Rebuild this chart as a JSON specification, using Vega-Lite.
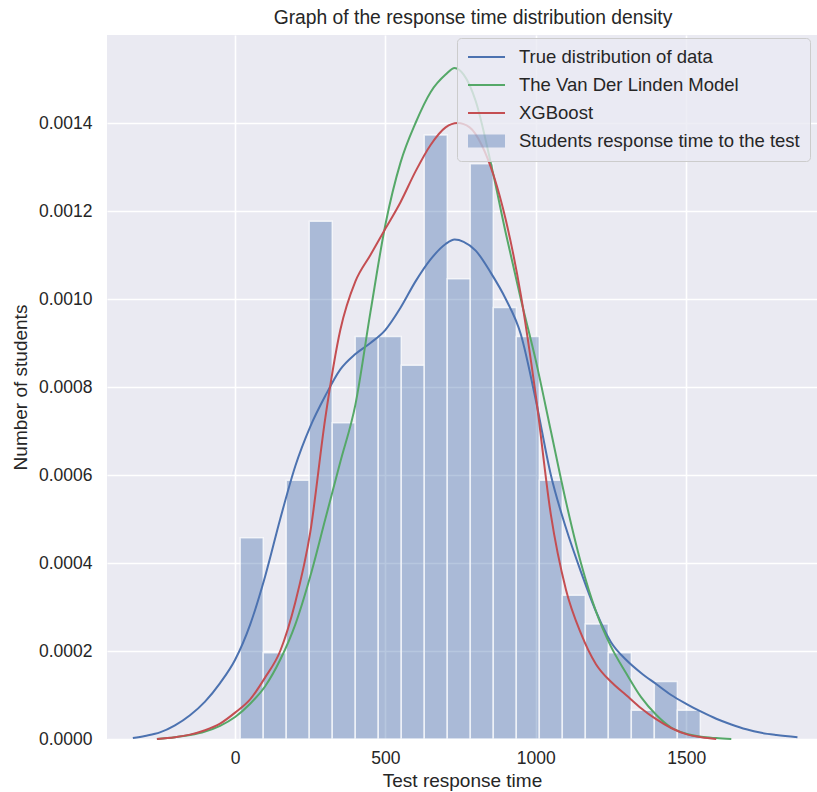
{
  "$schema": "https://vega.github.io/schema/vega-lite/v6.json",
  "width": 710,
  "height": 704,
  "autosize": {"type": "none"},
  "padding": {"left": 107, "top": 35, "right": 0, "bottom": 53},
  "background": "white",
  "title": {"text": "Graph of the response time distribution density", "fontSize": 19.3, "font": "Liberation Sans", "fontWeight": "normal", "color": "#262626", "offset": 7, "dx": 11},
  "config": {
    "view": {"fill": "#EAEAF2", "stroke": null},
    "font": "Liberation Sans",
    "axis": {"domain": false, "ticks": false, "gridColor": "white", "gridWidth": 1.6, "gridOpacity": 1, "labelColor": "#262626", "labelFontSize": 17.5, "labelFont": "Liberation Sans", "titleColor": "#262626", "titleFontSize": 19, "titleFontWeight": "normal", "titleFont": "Liberation Sans"}
  },
  "datasets": {
    "bins": [
      {"start": 17, "end": 93.5, "density": 0.0004575, "series": "Students response time to the test"},
      {"start": 93.5, "end": 170, "density": 0.0001961, "series": "Students response time to the test"},
      {"start": 170, "end": 246.5, "density": 0.0005882, "series": "Students response time to the test"},
      {"start": 246.5, "end": 323, "density": 0.0011765, "series": "Students response time to the test"},
      {"start": 323, "end": 399.5, "density": 0.000719, "series": "Students response time to the test"},
      {"start": 399.5, "end": 476, "density": 0.000915, "series": "Students response time to the test"},
      {"start": 476, "end": 552.5, "density": 0.000915, "series": "Students response time to the test"},
      {"start": 552.5, "end": 629, "density": 0.0008497, "series": "Students response time to the test"},
      {"start": 629, "end": 705.5, "density": 0.0013725, "series": "Students response time to the test"},
      {"start": 705.5, "end": 782, "density": 0.0010458, "series": "Students response time to the test"},
      {"start": 782, "end": 858.5, "density": 0.0013072, "series": "Students response time to the test"},
      {"start": 858.5, "end": 935, "density": 0.0009804, "series": "Students response time to the test"},
      {"start": 935, "end": 1011.5, "density": 0.000915, "series": "Students response time to the test"},
      {"start": 1011.5, "end": 1088, "density": 0.0005882, "series": "Students response time to the test"},
      {"start": 1088, "end": 1164.5, "density": 0.0003268, "series": "Students response time to the test"},
      {"start": 1164.5, "end": 1241, "density": 0.0002614, "series": "Students response time to the test"},
      {"start": 1241, "end": 1317.5, "density": 0.0001961, "series": "Students response time to the test"},
      {"start": 1317.5, "end": 1394, "density": 0.0000654, "series": "Students response time to the test"},
      {"start": 1394, "end": 1470.5, "density": 0.0001307, "series": "Students response time to the test"},
      {"start": 1470.5, "end": 1547, "density": 0.0000654, "series": "Students response time to the test"}
    ],
    "curves": [
      {"series": "True distribution of data", "x": -340, "density": 0.000002},
      {"series": "True distribution of data", "x": -300, "density": 0.000007},
      {"series": "True distribution of data", "x": -250, "density": 0.000015},
      {"series": "True distribution of data", "x": -200, "density": 0.000031},
      {"series": "True distribution of data", "x": -150, "density": 0.000054},
      {"series": "True distribution of data", "x": -100, "density": 0.000085},
      {"series": "True distribution of data", "x": -50, "density": 0.000127},
      {"series": "True distribution of data", "x": 0, "density": 0.00018},
      {"series": "True distribution of data", "x": 50, "density": 0.00026},
      {"series": "True distribution of data", "x": 100, "density": 0.00037},
      {"series": "True distribution of data", "x": 150, "density": 0.0005},
      {"series": "True distribution of data", "x": 200, "density": 0.00062},
      {"series": "True distribution of data", "x": 250, "density": 0.00071},
      {"series": "True distribution of data", "x": 300, "density": 0.00078},
      {"series": "True distribution of data", "x": 350, "density": 0.00084},
      {"series": "True distribution of data", "x": 400, "density": 0.000875},
      {"series": "True distribution of data", "x": 450, "density": 0.0009},
      {"series": "True distribution of data", "x": 500, "density": 0.00093},
      {"series": "True distribution of data", "x": 550, "density": 0.00098},
      {"series": "True distribution of data", "x": 600, "density": 0.00104},
      {"series": "True distribution of data", "x": 650, "density": 0.00109},
      {"series": "True distribution of data", "x": 700, "density": 0.001125},
      {"series": "True distribution of data", "x": 730, "density": 0.001135},
      {"series": "True distribution of data", "x": 760, "density": 0.00113},
      {"series": "True distribution of data", "x": 800, "density": 0.00111},
      {"series": "True distribution of data", "x": 850, "density": 0.00106},
      {"series": "True distribution of data", "x": 900, "density": 0.001},
      {"series": "True distribution of data", "x": 950, "density": 0.00092},
      {"series": "True distribution of data", "x": 1000, "density": 0.00077},
      {"series": "True distribution of data", "x": 1050, "density": 0.0006},
      {"series": "True distribution of data", "x": 1100, "density": 0.00048},
      {"series": "True distribution of data", "x": 1150, "density": 0.00038},
      {"series": "True distribution of data", "x": 1200, "density": 0.00029},
      {"series": "True distribution of data", "x": 1250, "density": 0.00022},
      {"series": "True distribution of data", "x": 1300, "density": 0.00018},
      {"series": "True distribution of data", "x": 1350, "density": 0.00015},
      {"series": "True distribution of data", "x": 1400, "density": 0.000125},
      {"series": "True distribution of data", "x": 1450, "density": 0.0001},
      {"series": "True distribution of data", "x": 1500, "density": 0.00008},
      {"series": "True distribution of data", "x": 1550, "density": 0.000062},
      {"series": "True distribution of data", "x": 1600, "density": 0.000046},
      {"series": "True distribution of data", "x": 1650, "density": 0.000033},
      {"series": "True distribution of data", "x": 1700, "density": 0.000022},
      {"series": "True distribution of data", "x": 1750, "density": 0.000014},
      {"series": "True distribution of data", "x": 1800, "density": 0.000009},
      {"series": "True distribution of data", "x": 1870, "density": 0.000004},
      {"series": "The Van Der Linden Model", "x": -260, "density": 0},
      {"series": "The Van Der Linden Model", "x": -200, "density": 0.000004},
      {"series": "The Van Der Linden Model", "x": -150, "density": 0.000009},
      {"series": "The Van Der Linden Model", "x": -100, "density": 0.000017},
      {"series": "The Van Der Linden Model", "x": -50, "density": 0.00003},
      {"series": "The Van Der Linden Model", "x": 0, "density": 0.00005},
      {"series": "The Van Der Linden Model", "x": 50, "density": 0.00008},
      {"series": "The Van Der Linden Model", "x": 100, "density": 0.00012},
      {"series": "The Van Der Linden Model", "x": 150, "density": 0.00018},
      {"series": "The Van Der Linden Model", "x": 200, "density": 0.00026},
      {"series": "The Van Der Linden Model", "x": 250, "density": 0.00037},
      {"series": "The Van Der Linden Model", "x": 300, "density": 0.0005},
      {"series": "The Van Der Linden Model", "x": 350, "density": 0.00063},
      {"series": "The Van Der Linden Model", "x": 400, "density": 0.00076},
      {"series": "The Van Der Linden Model", "x": 450, "density": 0.00097},
      {"series": "The Van Der Linden Model", "x": 500, "density": 0.00117},
      {"series": "The Van Der Linden Model", "x": 550, "density": 0.00131},
      {"series": "The Van Der Linden Model", "x": 600, "density": 0.0014},
      {"series": "The Van Der Linden Model", "x": 650, "density": 0.00147},
      {"series": "The Van Der Linden Model", "x": 700, "density": 0.00151},
      {"series": "The Van Der Linden Model", "x": 730, "density": 0.001525},
      {"series": "The Van Der Linden Model", "x": 760, "density": 0.00151},
      {"series": "The Van Der Linden Model", "x": 800, "density": 0.00145},
      {"series": "The Van Der Linden Model", "x": 850, "density": 0.00131},
      {"series": "The Van Der Linden Model", "x": 900, "density": 0.00115},
      {"series": "The Van Der Linden Model", "x": 950, "density": 0.001},
      {"series": "The Van Der Linden Model", "x": 1000, "density": 0.00086},
      {"series": "The Van Der Linden Model", "x": 1050, "density": 0.0007},
      {"series": "The Van Der Linden Model", "x": 1100, "density": 0.00054},
      {"series": "The Van Der Linden Model", "x": 1150, "density": 0.0004},
      {"series": "The Van Der Linden Model", "x": 1200, "density": 0.00029},
      {"series": "The Van Der Linden Model", "x": 1250, "density": 0.00021},
      {"series": "The Van Der Linden Model", "x": 1300, "density": 0.00015},
      {"series": "The Van Der Linden Model", "x": 1350, "density": 0.000095},
      {"series": "The Van Der Linden Model", "x": 1400, "density": 0.000055},
      {"series": "The Van Der Linden Model", "x": 1450, "density": 0.000026},
      {"series": "The Van Der Linden Model", "x": 1500, "density": 0.000012},
      {"series": "The Van Der Linden Model", "x": 1550, "density": 0.000005},
      {"series": "The Van Der Linden Model", "x": 1600, "density": 0.000002},
      {"series": "The Van Der Linden Model", "x": 1650, "density": 0},
      {"series": "XGBoost", "x": -260, "density": 0},
      {"series": "XGBoost", "x": -200, "density": 0.000004},
      {"series": "XGBoost", "x": -150, "density": 0.00001},
      {"series": "XGBoost", "x": -100, "density": 0.00002},
      {"series": "XGBoost", "x": -50, "density": 0.000035},
      {"series": "XGBoost", "x": 0, "density": 0.00006},
      {"series": "XGBoost", "x": 50, "density": 0.00009},
      {"series": "XGBoost", "x": 100, "density": 0.00014},
      {"series": "XGBoost", "x": 150, "density": 0.0002},
      {"series": "XGBoost", "x": 200, "density": 0.00031},
      {"series": "XGBoost", "x": 250, "density": 0.00047},
      {"series": "XGBoost", "x": 300, "density": 0.00073},
      {"series": "XGBoost", "x": 350, "density": 0.00093},
      {"series": "XGBoost", "x": 400, "density": 0.00104},
      {"series": "XGBoost", "x": 450, "density": 0.0011},
      {"series": "XGBoost", "x": 500, "density": 0.00116},
      {"series": "XGBoost", "x": 550, "density": 0.00122},
      {"series": "XGBoost", "x": 600, "density": 0.00129},
      {"series": "XGBoost", "x": 650, "density": 0.00135},
      {"series": "XGBoost", "x": 700, "density": 0.00139},
      {"series": "XGBoost", "x": 740, "density": 0.0014},
      {"series": "XGBoost", "x": 780, "density": 0.00139},
      {"series": "XGBoost", "x": 820, "density": 0.00135},
      {"series": "XGBoost", "x": 860, "density": 0.00128},
      {"series": "XGBoost", "x": 900, "density": 0.00118},
      {"series": "XGBoost", "x": 950, "density": 0.00101},
      {"series": "XGBoost", "x": 1000, "density": 0.00078},
      {"series": "XGBoost", "x": 1050, "density": 0.00051},
      {"series": "XGBoost", "x": 1100, "density": 0.00034},
      {"series": "XGBoost", "x": 1150, "density": 0.00024},
      {"series": "XGBoost", "x": 1200, "density": 0.00017},
      {"series": "XGBoost", "x": 1250, "density": 0.00013},
      {"series": "XGBoost", "x": 1300, "density": 0.0001},
      {"series": "XGBoost", "x": 1350, "density": 0.00007},
      {"series": "XGBoost", "x": 1400, "density": 0.000045},
      {"series": "XGBoost", "x": 1450, "density": 0.000025},
      {"series": "XGBoost", "x": 1500, "density": 0.000011},
      {"series": "XGBoost", "x": 1550, "density": 0.000004},
      {"series": "XGBoost", "x": 1600, "density": 0}
    ]
  },
  "encoding": {
    "color": {
      "field": "series", "type": "nominal",
      "scale": {"domain": ["True distribution of data", "The Van Der Linden Model", "XGBoost", "Students response time to the test"], "range": ["#4C72B0", "#55A868", "#C44E52", "#4C72B0"]},
      "legend": {
        "orient": "none", "legendX": 350, "legendY": 3, "title": null,
        "labelFontSize": 18.5, "labelColor": "#262626", "labelFont": "Liberation Sans", "labelLimit": 400,
        "symbolSize": 1369, "labelOffset": 13, "padding": 10, "rowPadding": 9, "clipHeight": 18,
        "fillColor": "rgba(234,234,242,0.8)", "strokeColor": "#CCCCCC", "cornerRadius": 4,
        "encode": {"symbols": {"update": {
          "shape": {"signal": "datum.value === 'Students response time to the test' ? 'M-1,-0.35H1V0.35H-1Z' : 'stroke'"},
          "fill": {"signal": "datum.value === 'Students response time to the test' ? '#4C72B0' : 'transparent'"},
          "fillOpacity": {"signal": "datum.value === 'Students response time to the test' ? 0.4 : 0"},
          "stroke": {"signal": "datum.value === 'True distribution of data' ? '#4C72B0' : datum.value === 'The Van Der Linden Model' ? '#55A868' : datum.value === 'XGBoost' ? '#C44E52' : 'transparent'"},
          "strokeWidth": {"value": 2},
          "strokeOpacity": {"signal": "datum.value === 'Students response time to the test' ? 0 : 1"},
          "opacity": {"value": 1}
        }}}
      }
    }
  },
  "layer": [
    {
      "data": {"name": "bins"},
      "mark": {"type": "bar", "stroke": "white", "strokeWidth": 1.5, "strokeOpacity": 0.7, "fillOpacity": 0.4},
      "encoding": {
        "x": {"field": "start", "type": "quantitative", "scale": {"domain": [-426, 1935], "nice": false, "zero": false},
              "axis": {"values": [0, 500, 1000, 1500], "format": "d", "labelPadding": 10, "title": "Test response time", "titlePadding": 5}},
        "x2": {"field": "end"},
        "y": {"field": "density", "type": "quantitative", "scale": {"domain": [0, 0.0016], "nice": false},
              "axis": {"values": [0, 0.0002, 0.0004, 0.0006, 0.0008, 0.001, 0.0012, 0.0014], "format": ".4f", "labelPadding": 15, "title": "Number of students", "titlePadding": 8}},
        "y2": {"datum": 0}
      }
    },
    {
      "data": {"name": "curves"},
      "mark": {"type": "line", "strokeWidth": 2, "interpolate": "monotone"},
      "encoding": {
        "x": {"field": "x", "type": "quantitative"},
        "y": {"field": "density", "type": "quantitative"}
      }
    }
  ]
}
